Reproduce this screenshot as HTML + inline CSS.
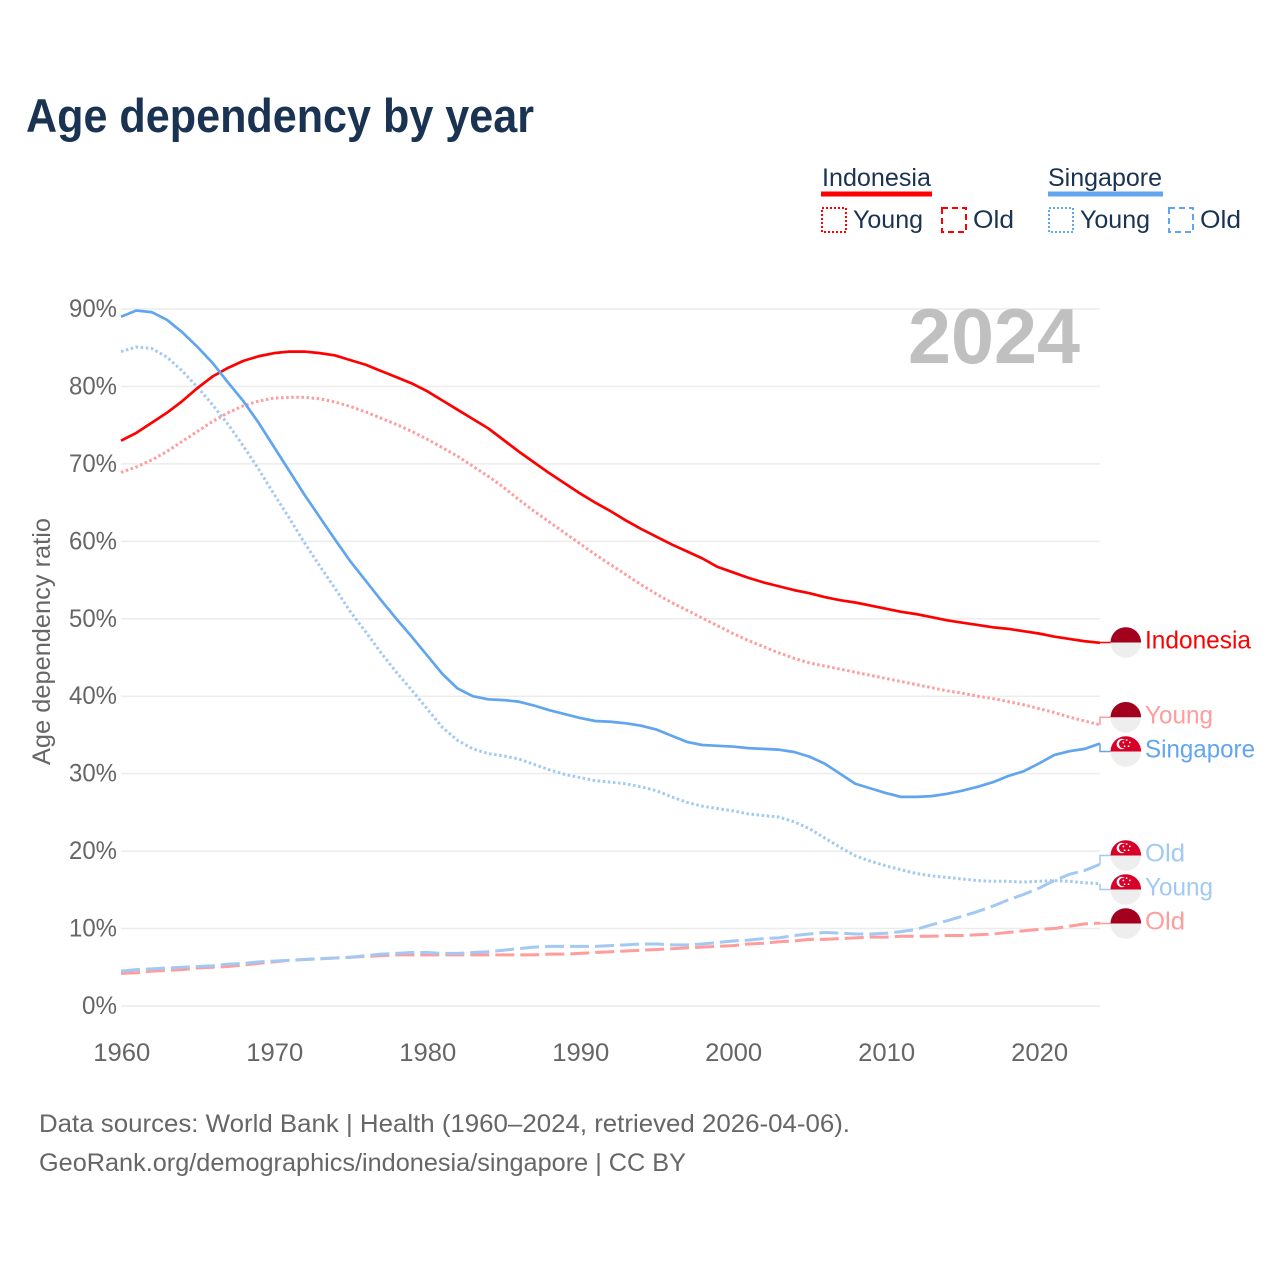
<!DOCTYPE html>
<html lang="en">
<head>
<meta charset="utf-8">
<title>Age dependency by year</title>
<style>
html,body{margin:0;padding:0;background:#fff;}
svg{display:block;}
text{font-family:"Liberation Sans",sans-serif;}
</style>
</head>
<body>
<svg id="chart" xmlns="http://www.w3.org/2000/svg" width="1280" height="1280" viewBox="0 0 1280 1280">
  <text x="26" y="132" font-size="47" font-weight="700" fill="#1a3352" textLength="508" lengthAdjust="spacingAndGlyphs">Age dependency by year</text>

  <g>
    <text x="822" y="186" font-size="25" fill="#1a3352" textLength="109" lengthAdjust="spacingAndGlyphs">Indonesia</text>
    <rect x="821" y="191.5" width="111" height="5" fill="#ff0000"/>
    <rect x="822" y="208" width="24" height="24" fill="none" stroke="#ff0000" stroke-width="2" stroke-dasharray="2 2"/>
    <text x="853" y="228" font-size="25" fill="#1a3352" textLength="70" lengthAdjust="spacingAndGlyphs">Young</text>
    <rect x="942" y="208" width="24" height="24" fill="none" stroke="#ff0000" stroke-width="2" stroke-dasharray="6 4"/>
    <text x="973" y="228" font-size="25" fill="#1a3352" textLength="41" lengthAdjust="spacingAndGlyphs">Old</text>

    <text x="1048" y="186" font-size="25" fill="#1a3352" textLength="114" lengthAdjust="spacingAndGlyphs">Singapore</text>
    <rect x="1048" y="191.5" width="115" height="5" fill="#60a5ee"/>
    <rect x="1049" y="208" width="24" height="24" fill="none" stroke="#60a5ee" stroke-width="2" stroke-dasharray="2 2"/>
    <text x="1080" y="228" font-size="25" fill="#1a3352" textLength="70" lengthAdjust="spacingAndGlyphs">Young</text>
    <rect x="1169" y="208" width="24" height="24" fill="none" stroke="#60a5ee" stroke-width="2" stroke-dasharray="6 4"/>
    <text x="1200" y="228" font-size="25" fill="#1a3352" textLength="41" lengthAdjust="spacingAndGlyphs">Old</text>
  </g>

  <g id="grid"></g>
  <text x="908" y="363" font-size="78" font-weight="700" fill="#c0c0c0" textLength="172" lengthAdjust="spacingAndGlyphs">2024</text>
  <g id="yticks"></g>
  <g id="xticks"></g>
  <text transform="translate(50,765) rotate(-90)" x="0" y="0" font-size="25" fill="#666666" textLength="247" lengthAdjust="spacingAndGlyphs">Age dependency ratio</text>

  <g id="series"></g>
  <g id="ends"></g>

  <text x="39" y="1132" font-size="25" fill="#666666" textLength="811" lengthAdjust="spacingAndGlyphs">Data sources: World Bank | Health (1960–2024, retrieved 2026-04-06).</text>
  <text x="39" y="1171" font-size="25" fill="#666666" textLength="647" lengthAdjust="spacingAndGlyphs">GeoRank.org/demographics/indonesia/singapore | CC BY</text>
</svg>

<script>
const firstYear = 1960;
const xTickYears = [1960, 1970, 1980, 1990, 2000, 2010, 2020];
const yTickValues = [0, 10, 20, 30, 40, 50, 60, 70, 80, 90];

const indonesiaTotal = [
  73.0, 74.0, 75.3, 76.6, 78.1, 79.8, 81.3, 82.4, 83.3, 83.9,
  84.3, 84.5, 84.5, 84.3, 84.0, 83.4, 82.8, 82.0, 81.2, 80.4,
  79.4, 78.2, 77.0, 75.8, 74.6, 73.1, 71.6, 70.2, 68.8, 67.5,
  66.2, 65.0, 63.9, 62.7, 61.6, 60.6, 59.6, 58.7, 57.8, 56.7,
  56.0, 55.3, 54.7, 54.2, 53.7, 53.3, 52.8, 52.4, 52.1, 51.7,
  51.3, 50.9, 50.6, 50.2, 49.8, 49.5, 49.2, 48.9, 48.7, 48.4,
  48.1, 47.7, 47.4, 47.1, 46.9
];
const indonesiaYoung = [
  68.9, 69.6, 70.5, 71.6, 72.9, 74.2, 75.5, 76.6, 77.5, 78.1,
  78.5, 78.6, 78.6, 78.4, 78.0, 77.4, 76.7, 75.9, 75.1, 74.2,
  73.2, 72.1, 71.0, 69.7, 68.4, 67.0, 65.4, 63.9, 62.5, 61.1,
  59.7, 58.3, 57.0, 55.7, 54.4, 53.2, 52.1, 51.1, 50.1, 49.1,
  48.1, 47.2, 46.4, 45.6, 44.9, 44.3, 43.9, 43.5, 43.1, 42.7,
  42.3, 41.9, 41.5, 41.1, 40.7, 40.4, 40.0, 39.7, 39.3, 38.9,
  38.4, 37.9, 37.3, 36.8, 36.3
];
const indonesiaOld = [
  4.2, 4.3, 4.5, 4.6, 4.7, 4.9, 5.0, 5.1, 5.3, 5.5,
  5.7, 5.9, 6.0, 6.1, 6.2, 6.3, 6.4, 6.5, 6.6, 6.6,
  6.6, 6.6, 6.6, 6.6, 6.6, 6.6, 6.6, 6.6, 6.7, 6.7,
  6.8, 6.9, 7.0, 7.1, 7.2, 7.3, 7.4, 7.5, 7.6, 7.7,
  7.8, 8.0, 8.1, 8.3, 8.4, 8.6, 8.6, 8.7, 8.8, 8.9,
  8.9, 9.0, 9.0, 9.0, 9.1, 9.1, 9.2, 9.3, 9.5, 9.7,
  9.9, 10.0, 10.3, 10.6, 10.7
];
const singaporeTotal = [
  89.0, 89.8, 89.6, 88.6, 87.0, 85.1, 83.0, 80.5, 78.1, 75.3,
  72.2, 69.1, 66.0, 63.1, 60.2, 57.4, 54.9, 52.4, 50.0, 47.7,
  45.3, 42.9, 41.0, 40.0, 39.6, 39.5, 39.3, 38.8, 38.2, 37.7,
  37.2, 36.8, 36.7, 36.5, 36.2, 35.7, 34.9, 34.1, 33.7, 33.6,
  33.5, 33.3, 33.2, 33.1, 32.8, 32.2, 31.3, 30.0, 28.7, 28.1,
  27.5, 27.0, 27.0, 27.1, 27.4, 27.8, 28.3, 28.9, 29.7, 30.3,
  31.3, 32.4, 32.9, 33.2, 33.9
];
const singaporeYoung = [
  84.5, 85.1, 84.9, 83.8, 82.0, 79.9, 77.6, 75.1, 72.3, 69.3,
  66.1, 63.0, 59.8, 56.8, 53.9, 50.9, 48.3, 45.6, 43.1, 40.8,
  38.4, 36.0, 34.3, 33.2, 32.6, 32.3, 31.9, 31.2, 30.5, 29.9,
  29.5, 29.1, 28.9, 28.7, 28.3, 27.8, 27.0, 26.3, 25.8, 25.5,
  25.2, 24.8, 24.6, 24.4, 23.8, 22.9, 21.7, 20.5, 19.4, 18.7,
  18.1, 17.6, 17.1, 16.8, 16.6, 16.4, 16.2, 16.1, 16.1, 16.0,
  16.1, 16.2, 16.1, 15.9, 15.8
];
const singaporeOld = [
  4.5, 4.7, 4.8, 4.9, 5.0, 5.1, 5.2, 5.4, 5.5, 5.7,
  5.8, 5.9, 6.0, 6.1, 6.2, 6.3, 6.5, 6.7, 6.8, 6.9,
  6.9, 6.8, 6.8, 6.9, 7.0, 7.2, 7.4, 7.6, 7.7, 7.7,
  7.7, 7.7, 7.8, 7.9, 8.0, 8.0, 7.9, 7.9, 8.0, 8.2,
  8.4, 8.5, 8.7, 8.8, 9.1, 9.3, 9.5, 9.4, 9.3, 9.3,
  9.4, 9.6, 9.9, 10.5, 11.0, 11.6, 12.2, 12.9, 13.7, 14.4,
  15.2, 16.2, 17.0, 17.5, 18.3
];

const NS = 'http://www.w3.org/2000/svg';
function xScale(year) { return 121 + (year - 1960) * (1100 - 121) / 64; }
function yScale(pct) { return 1006 - pct * (1006 - 309) / 90; }

function mk(tag, parent, attrs) {
  const el = document.createElementNS(NS, tag);
  for (const k in attrs) el.setAttribute(k, attrs[k]);
  parent.appendChild(el);
  return el;
}

const gridG = document.getElementById('grid');
const yG = document.getElementById('yticks');
const xG = document.getElementById('xticks');
const seriesG = document.getElementById('series');
const endsG = document.getElementById('ends');

yTickValues.forEach(function (v) {
  const line = mk('line', gridG, { x1: 121, x2: 1100, y1: yScale(v), y2: yScale(v), stroke: '#ececec', 'stroke-width': 1.5 });
  
  
  const t = mk('text', yG, { x: 117, y: yScale(v) + 8, 'font-size': 25, fill: '#666666', 'text-anchor': 'end', textLength: v === 0 ? 35 : 48, lengthAdjust: 'spacingAndGlyphs' });
  
  
  t.textContent = v + '%';
});

xTickYears.forEach(function (yr) {
  const t = mk('text', xG, { x: xScale(yr) + 0.8, y: 1061, 'font-size': 25, fill: '#666666', 'text-anchor': 'middle', textLength: 57, lengthAdjust: 'spacingAndGlyphs' });
  
  
  t.textContent = String(yr);
});

function drawSeries(name, values, color, dash, width) {
  const pts = values.map(function (v, i) { return xScale(firstYear + i).toFixed(2) + ',' + yScale(v).toFixed(2); }).join(' ');
  const attrs = { points: pts, fill: 'none', stroke: color, 'stroke-width': width, 'stroke-linejoin': 'round' };
  if (dash) attrs['stroke-dasharray'] = dash;
  const line = mk('polyline', seriesG, attrs);
  
  
}

const RED = '#ff0000', BLUE = '#60a5ee', PINK = '#ff9c9c', SKY = '#a2c9f3';
const DOT = '2.5 2.6', DASH = '19 6';
drawSeries('line-indonesia-old', indonesiaOld, PINK, DASH, 3);
drawSeries('line-singapore-old', singaporeOld, SKY, DASH, 3);
drawSeries('line-indonesia-young', indonesiaYoung, PINK, DOT, 3);
drawSeries('line-singapore-young', singaporeYoung, SKY, DOT, 3);
drawSeries('line-indonesia-total', indonesiaTotal, RED, null, 2.7);
drawSeries('line-singapore-total', singaporeTotal, BLUE, null, 2.7);

function drawFlag(group, cx, cy, country) {
  const r = 15.3;
  mk('circle', group, { cx: cx, cy: cy, r: r, fill: '#eeeeee' });
  const top = country === 'sg' ? '#d80027' : '#a2001d';
  mk('path', group, { d: 'M' + (cx - r) + ' ' + cy + 'A' + r + ' ' + r + ' 0 0 1 ' + (cx + r) + ' ' + cy + 'Z', fill: top });
  if (country === 'sg') {
    mk('circle', group, { cx: cx - 4, cy: cy - 7.5, r: 5.2, fill: '#ffffff' });
    mk('circle', group, { cx: cx - 2.4, cy: cy - 7.5, r: 4.4, fill: top });
    for (let k = 0; k < 5; k++) {
      const a = -Math.PI / 2 + k * 2 * Math.PI / 5;
      mk('circle', group, { cx: cx + 0.8 + 3.4 * Math.cos(a), cy: cy - 8 + 3.4 * Math.sin(a), r: 0.9, fill: '#ffffff' });
    }
  }
}

function drawEnd(key, label, values, color, dash, country, flagY, textWidth) {
  const g = mk('g', endsG, {});
  
  
  const y0 = yScale(values[values.length - 1]);
  const attrs = { points: '1100,' + y0.toFixed(2) + ' 1100,' + flagY + ' 1111,' + flagY, fill: 'none', stroke: color, 'stroke-width': 1.5 };
  mk('polyline', g, attrs);
  drawFlag(g, 1125.8, flagY, country);
  const t = mk('text', g, { x: 1145, y: flagY + 6, 'font-size': 25, fill: color, textLength: textWidth, lengthAdjust: 'spacingAndGlyphs' });
  t.textContent = label;
}

drawEnd('indonesia-total', 'Indonesia', indonesiaTotal, RED, null, 'id', 642.5, 106);
drawEnd('indonesia-young', 'Young', indonesiaYoung, PINK, DOT, 'id', 717.3, 68);
drawEnd('singapore-total', 'Singapore', singaporeTotal, BLUE, null, 'sg', 751.5, 110);
drawEnd('singapore-old', 'Old', singaporeOld, SKY, DASH, 'sg', 855.5, 40);
drawEnd('singapore-young', 'Young', singaporeYoung, SKY, DOT, 'sg', 889.5, 68);
drawEnd('indonesia-old', 'Old', indonesiaOld, PINK, DASH, 'id', 923.5, 40);
</script>
</body>
</html>
